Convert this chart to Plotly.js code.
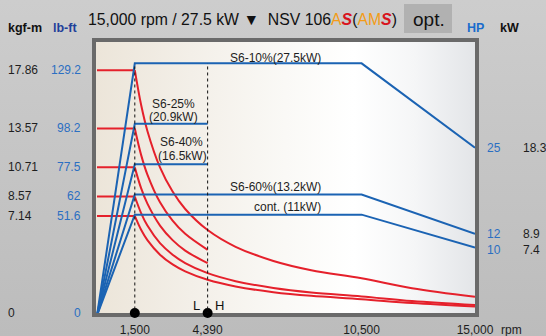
<!DOCTYPE html>
<html><head><meta charset="utf-8">
<script src="https://cdn.plot.ly/plotly-3.0.1.min.js"></script>
<style>
html,body{margin:0;padding:0;}
body{background:linear-gradient(to bottom,#cdcdcd,#bcbcbc);width:546px;height:336px;overflow:hidden;}
#wrap{position:relative;width:546px;height:336px;}
#bg{position:absolute;left:96px;top:42px;width:379px;height:271px;background:linear-gradient(to right,#ece5d9 0%,#f3efe8 25%,#faf9f6 50%,#ffffff 68%,#f5f6f7 84%,#e3e5e8 100%);}
#chart{position:absolute;left:0;top:0;width:546px;height:336px;}
</style></head>
<body><div id="wrap"><div id="bg"></div><div id="chart"></div></div>
<script>
// ---------------- data ----------------
const speedFull = [0, 1500, 10500, 15000];
const speedLow = [0, 1500, 4390];
const powerS6_10 = [0, 27.5, 27.5, 18.3];
const powerS6_25 = [0, 20.9, 20.9];
const powerS6_40 = [0, 16.5, 16.5];
const powerS6_60 = [0, 13.2, 13.2, 8.9];
const powerCont  = [0, 11, 11, 7.4];

const speedFlat = [0, 1500];
const speedTorqueFull = [1500, 1750, 2000, 2500, 3000, 3500, 4390, 5500, 7000, 8500, 10500, 12500, 15000];
const speedTorqueLow  = [1500, 1750, 2000, 2500, 3000, 3500, 4390];
const torqueS6_10 = [17.86, 15.31, 13.39, 10.71, 8.93, 7.65, 6.10, 4.87, 3.83, 3.15, 2.55, 1.82, 1.19];
const torqueS6_25 = [13.57, 11.63, 10.18, 8.14, 6.79, 5.82, 4.64];
const torqueS6_40 = [10.71, 9.18, 8.04, 6.43, 5.36, 4.59, 3.66];
const torqueS6_60 = [8.57, 7.35, 6.43, 5.14, 4.29, 3.67, 2.93, 2.34, 1.84, 1.51, 1.22, 0.88, 0.58];
const torqueCont  = [7.14, 6.12, 5.36, 4.29, 3.57, 3.06, 2.44, 1.95, 1.53, 1.26, 1.02, 0.73, 0.48];

const markSpeeds = [1500, 4390];
const markLabels = ['L', 'H'];
const xTickVals = [1500, 4390, 10500, 15000];
const xTickText = ['1,500', '4,390', '10,500', '15,000'];
const kgfTicks = [17.86, 13.57, 10.71, 8.57, 7.14, 0];
const lbftTicks = ['129.2', '98.2', '77.5', '62', '51.6', '0'];
const hpLabels = ['25', '12', '10'];
const kwLabels = [18.3, 8.9, 7.4];
const curveLabels = ['S6-10%(27.5kW)', 'S6-25%', '(20.9kW)', 'S6-40%', '(16.5kW)', 'S6-60%(13.2kW)', 'cont. (11kW)'];

// ---------------- style ----------------
const BLUE = '#1b63b3', RED = '#e5202b', FRAME = '#6a6a6a';
const FONT = 'Liberation Sans, Arial, sans-serif';
const L = 96, W = 379, B = 313, H = 271;
const px = x => (x - L) / W;
const py = y => (B - y) / H;

const traces = [];
function blue(x, y) {
  traces.push({x: x, y: y, yaxis: 'y2', mode: 'lines', line: {color: BLUE, width: 2}, hoverinfo: 'skip', showlegend: false});
}
blue(speedFull, powerS6_10);
blue(speedLow, powerS6_25);
blue(speedLow, powerS6_40);
blue(speedFull, powerS6_60);
blue(speedFull, powerCont);

function red(x, t) {
  traces.push({x: speedFlat, y: [t[0], t[0]], yaxis: 'y', mode: 'lines', line: {color: RED, width: 2}, hoverinfo: 'skip', showlegend: false});
  traces.push({x: x, y: t, yaxis: 'y', mode: 'lines', line: {color: RED, width: 2, shape: 'spline', smoothing: 1}, hoverinfo: 'skip', showlegend: false});
}
red(speedTorqueFull, torqueS6_10);
red(speedTorqueLow, torqueS6_25);
red(speedTorqueLow, torqueS6_40);
red(speedTorqueFull, torqueS6_60);
red(speedTorqueFull, torqueCont);

const topPower = Math.max(...powerS6_10);
markSpeeds.forEach(s => {
  traces.push({x: [s, s], y: [0, topPower], yaxis: 'y2', mode: 'lines', line: {color: '#111', width: 1, dash: 'dot'}, hoverinfo: 'skip', showlegend: false});
});
traces.push({x: markSpeeds, y: markSpeeds.map(() => 0), yaxis: 'y', mode: 'markers', marker: {size: 10, color: '#000'}, cliponaxis: false, hoverinfo: 'skip', showlegend: false});

// ---------------- annotations ----------------
const ann = [];
function txt(text, x, y, opts) {
  ann.push(Object.assign({text: text, x: x, y: y, xref: 'paper', yref: 'paper', showarrow: false,
    xanchor: 'center', yanchor: 'middle',
    font: {family: FONT, size: 12, color: '#1e1e1e'}}, opts || {}));
}
// header
txt('<b>kgf-m</b>', px(6), py(28), {xanchor: 'left', font: {family: FONT, size: 12.5, color: '#111'}});
txt('<b>lb-ft</b>', px(51), py(28), {xanchor: 'left', font: {family: FONT, size: 12.5, color: '#1f3f9a'}});
txt('<b>HP</b>', px(465), py(28), {xanchor: 'left', font: {family: FONT, size: 12.5, color: '#1a6ccc'}});
txt('<b>kW</b>', px(498), py(28), {xanchor: 'left', font: {family: FONT, size: 12.5, color: '#111'}});
txt('15,000 rpm / 27.5 kW \u25BC\u00a0 NSV 106<span style="color:#f39c17">A</span><span style="color:#d8141e"><b><i>S</i></b></span>(<span style="color:#f39c17">AM</span><span style="color:#d8141e"><b><i>S</i></b></span>)',
  px(86), py(20), {xanchor: 'left', font: {family: FONT, size: 15.8, color: '#111'}});
txt('opt.', px(429), py(19), {font: {family: FONT, size: 19, color: '#111'}});

// left torque labels
kgfTicks.forEach((v, i) => {
  ann.push({text: String(v), x: px(6), y: v, xref: 'paper', yref: 'y', xanchor: 'left', yanchor: 'middle', showarrow: false,
    font: {family: FONT, size: 12, color: '#1e1e1e'}});
  ann.push({text: lbftTicks[i], x: px(83), y: v, xref: 'paper', yref: 'y', xanchor: 'right', yanchor: 'middle', showarrow: false,
    font: {family: FONT, size: 12, color: '#2b6fc2'}});
});
// right power labels
kwLabels.forEach((v, i) => {
  const shift = i === 2 ? -2 : 0;
  ann.push({text: hpLabels[i], x: px(485), y: v, xref: 'paper', yref: 'y2', xanchor: 'left', yanchor: 'middle', yshift: shift, showarrow: false,
    font: {family: FONT, size: 12, color: '#2b6fc2'}});
  ann.push({text: String(v), x: px(521), y: v, xref: 'paper', yref: 'y2', xanchor: 'left', yanchor: 'middle', yshift: shift, showarrow: false,
    font: {family: FONT, size: 12, color: '#1e1e1e'}});
});
// curve labels
const labelPos = [[275.5, 57.5], [173, 103.5], [173, 117], [181.5, 141.5], [182.5, 155.5], [275.5, 187], [287.5, 206.5]];
curveLabels.forEach((t, i) => txt(t, px(labelPos[i][0]), py(labelPos[i][1]), {font: {family: FONT, size: 12, color: '#1e1e1e'}}));
// L / H
markLabels.forEach((t, i) => txt(t, px([196, 219][i]), py(305), {font: {family: FONT, size: 13, color: '#111'}}));
// rpm
txt('rpm', px(499), py(330), {xanchor: 'left', font: {family: FONT, size: 12, color: '#1e1e1e'}});

const layout = {
  width: 546, height: 336,
  margin: {l: L, r: 546 - L - W, t: 42, b: 336 - B},
  paper_bgcolor: 'rgba(0,0,0,0)', plot_bgcolor: 'rgba(0,0,0,0)',
  showlegend: false,
  xaxis: {range: [-39.7, 15000], showgrid: false, zeroline: false, showline: true, linewidth: 4, linecolor: FRAME, mirror: true,
    ticks: '', tickvals: xTickVals, ticktext: xTickText, ticklabelstandoff: 3,
    tickfont: {family: FONT, size: 12, color: '#1e1e1e'}, layer: 'below traces', fixedrange: true},
  yaxis: {range: [0, 19.93], showgrid: false, zeroline: false, showline: true, linewidth: 4, linecolor: FRAME, mirror: true,
    showticklabels: false, ticks: '', layer: 'below traces', fixedrange: true},
  yaxis2: {range: [0.27, 29.83], overlaying: 'y', side: 'right', showgrid: false, zeroline: false, showline: false,
    showticklabels: false, ticks: '', layer: 'below traces', fixedrange: true},
  shapes: [{type: 'rect', xref: 'paper', yref: 'paper', x0: px(404), x1: px(452), y0: py(33), y1: py(4), fillcolor: '#b1b1b1', line: {width: 0}, layer: 'below'}],
  annotations: ann
};
Plotly.newPlot('chart', traces, layout, {staticPlot: true, displayModeBar: false});
</script></body></html>
